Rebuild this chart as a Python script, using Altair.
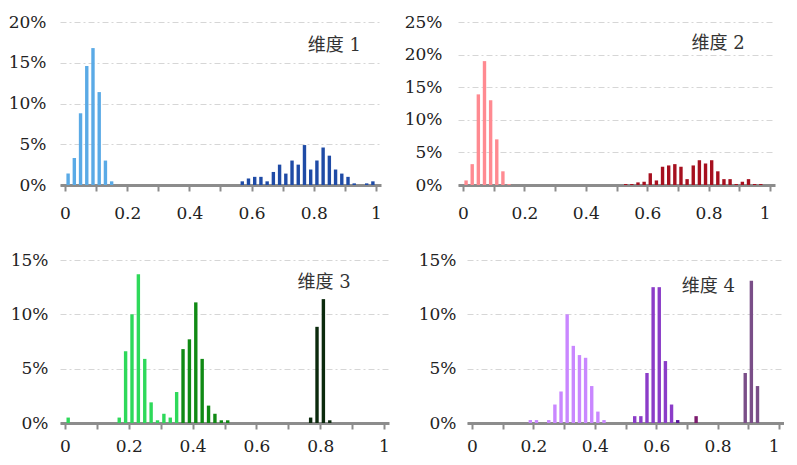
import altair as alt
import pandas as pd

# ---------------- data (percent of samples per 0.02-wide bin, bin centres) ----------------
P1_LIGHT_X = [0.01, 0.03, 0.05, 0.07, 0.09, 0.11, 0.13, 0.15]
P1_LIGHT_Y = [1.4, 3.3, 8.8, 14.6, 16.8, 11.4, 3.0, 0.45]
P1_DARK_X = [0.57, 0.59, 0.61, 0.63, 0.65, 0.67, 0.69, 0.71, 0.73, 0.75, 0.77,
             0.79, 0.81, 0.83, 0.85, 0.87, 0.89, 0.91, 0.93, 0.95, 0.97, 0.99]
P1_DARK_Y = [0.45, 0.8, 1.0, 1.0, 0.45, 1.6, 2.5, 1.4, 3.0, 2.5, 4.9,
             1.9, 3.0, 4.6, 3.6, 1.9, 1.4, 1.0, 0.2, 0.0, 0.2, 0.45]

P2_LIGHT_X = [0.01, 0.03, 0.05, 0.07, 0.09, 0.11, 0.13, 0.15]
P2_LIGHT_Y = [0.7, 3.2, 13.9, 19.0, 13.0, 7.0, 2.1, 0.15]
P2_DARK_X = [0.53, 0.55, 0.57, 0.59, 0.61, 0.63, 0.65, 0.67, 0.69, 0.71, 0.73, 0.75,
             0.77, 0.79, 0.81, 0.83, 0.85, 0.87, 0.89, 0.91, 0.93, 0.95, 0.97]
P2_DARK_Y = [0.15, 0.15, 0.4, 0.5, 1.8, 0.7, 2.8, 3.0, 3.2, 2.8, 0.9, 3.0,
             3.8, 3.3, 3.8, 2.1, 0.9, 0.9, 0.15, 0.5, 0.9, 0.15, 0.15]

P3_LIGHT_X = [0.01, 0.17, 0.19, 0.21, 0.23, 0.25, 0.27, 0.29, 0.31, 0.33, 0.35]
P3_LIGHT_Y = [0.5, 0.5, 6.6, 10.0, 13.7, 5.9, 1.9, 0.25, 0.85, 0.5, 2.85]
P3_MID_X = [0.37, 0.39, 0.41, 0.43, 0.45, 0.47, 0.49, 0.51]
P3_MID_Y = [6.8, 7.7, 11.1, 5.9, 1.6, 0.85, 0.25, 0.25]
P3_DARK_X = [0.77, 0.79, 0.81, 0.83]
P3_DARK_Y = [0.5, 8.85, 11.4, 0.25]

P4_LIGHT_X = [0.19, 0.21, 0.25, 0.27, 0.29, 0.31, 0.33, 0.35, 0.37, 0.39, 0.41, 0.43]
P4_LIGHT_Y = [0.27, 0.27, 0.27, 1.7, 2.9, 10.0, 7.1, 6.25, 6.0, 3.4, 1.05, 0.27]
P4_MID_X = [0.53, 0.55, 0.57, 0.59, 0.61, 0.63, 0.65]
P4_MID_Y = [0.63, 0.63, 4.6, 12.5, 12.5, 5.7, 1.7]
P4_VIOLET_X = [0.67]
P4_VIOLET_Y = [0.27]
P4_MAGENTA_X = [0.73]
P4_MAGENTA_Y = [0.63]
P4_GREY_X = [0.89, 0.91, 0.93]
P4_GREY_Y = [4.6, 13.1, 3.4]

X_TICKS = [0, 0.1, 0.2, 0.3, 0.4, 0.5, 0.6, 0.7, 0.8, 0.9, 1]
Y_TICKS_20 = [0, 5, 10, 15, 20]
Y_TICKS_25 = [0, 5, 10, 15, 20, 25]
Y_TICKS_15 = [0, 5, 10, 15]

LABELS = ["维度 1", "维度 2", "维度 3", "维度 4"]

FONT = "DejaVu Serif"
TFONT = "DejaVu Serif, Noto Sans CJK SC"


def panel(series, ymax, yticks, width, height, label, lx, ly, ypad, xpad, flush_end):
    rows = []
    for name, xs, ys, _ in series:
        for xv, yv in zip(xs, ys):
            rows.append({"x": xv, "pct": yv, "g": name})
    df = pd.DataFrame(rows)
    xscale = alt.Scale(domain=[0, 1], nice=False, zero=False)
    yscale = alt.Scale(domain=[0, ymax], nice=False)
    xaxis_kw = dict(values=X_TICKS, title=None, grid=False,
                    labelExpr="round(datum.value*10) % 2 == 0 ? format(datum.value, '~g') : ''",
                    tickSize=6, tickWidth=2, tickColor="#8c8c8c",
                    domainColor="#8c8c8c", domainWidth=3,
                    labelFont=FONT, labelFontSize=17, labelColor="#222",
                    labelPadding=xpad, labelFlush=False, labelOverlap=False)
    if flush_end:
        xaxis_kw["labelAlign"] = {"expr": "datum.value >= 1 ? 'right' : 'center'"}
    xaxis = alt.Axis(**xaxis_kw)
    yaxis = alt.Axis(values=yticks, title=None, domain=False, ticks=False,
                     labelExpr="datum.value + '%'",
                     grid=True, gridColor="#d6d6d6", gridDash=[6, 3, 2, 3],
                     labelFont=FONT, labelFontSize=17, labelColor="#222",
                     labelPadding=ypad, labelOverlap=False, labelFlush=False)
    bars = alt.Chart(df).mark_bar(size=3.4).encode(
        x=alt.X("x:Q", scale=xscale, axis=xaxis),
        y=alt.Y("pct:Q", scale=yscale, axis=yaxis),
        color=alt.Color("g:N",
                        scale=alt.Scale(domain=[s[0] for s in series],
                                        range=[s[3] for s in series]),
                        legend=None),
    )
    text = alt.Chart(pd.DataFrame({"t": [label]})).mark_text(
        font=TFONT, fontSize=18, color="#333", align="center", baseline="middle"
    ).encode(x=alt.XDatum(lx, axis=xaxis), y=alt.YDatum(ly, axis=yaxis), text="t:N")
    return alt.layer(bars, text).properties(width=width, height=height)


p1 = panel([("p1a", P1_LIGHT_X, P1_LIGHT_Y, "#5aaae6"),
            ("p1b", P1_DARK_X, P1_DARK_Y, "#1f4ba6")],
           20, Y_TICKS_20, 321, 163, LABELS[0], 0.866, 17.0, 14, 14, False)
p2 = panel([("p2a", P2_LIGHT_X, P2_LIGHT_Y, "#ff8a91"),
            ("p2b", P2_DARK_X, P2_DARK_Y, "#a6101f")],
           25, Y_TICKS_25, 317, 163, LABELS[1], 0.831, 21.6, 16, 14, True)
p3 = panel([("p3a", P3_LIGHT_X, P3_LIGHT_Y, "#2ed95a"),
            ("p3b", P3_MID_X, P3_MID_Y, "#108a14"),
            ("p3c", P3_DARK_X, P3_DARK_Y, "#0b2a0d")],
           15, Y_TICKS_15, 329, 163, LABELS[2], 0.812, 12.9, 12, 9, False)
p4 = panel([("p4a", P4_LIGHT_X, P4_LIGHT_Y, "#c987ff"),
            ("p4b", P4_MID_X, P4_MID_Y, "#8b3cc8"),
            ("p4c", P4_VIOLET_X, P4_VIOLET_Y, "#5a179e"),
            ("p4d", P4_MAGENTA_X, P4_MAGENTA_Y, "#7c1a6e"),
            ("p4e", P4_GREY_X, P4_GREY_Y, "#7a4e88")],
           15, Y_TICKS_15, 317, 163, LABELS[3], 0.77, 12.5, 11, 9, True)

row1 = alt.hconcat(p1, p2, spacing=22).resolve_scale(color="independent")
row2 = alt.hconcat(p3, p4, spacing=28).resolve_scale(color="independent")

chart = alt.vconcat(row1, row2, spacing=30).resolve_scale(
    color="independent"
).properties(
    padding={"left": 0, "top": 5, "right": 0, "bottom": 0}
).configure_view(stroke=None)

chart.save("out.html", embed_options={"renderer": "svg", "actions": False})
